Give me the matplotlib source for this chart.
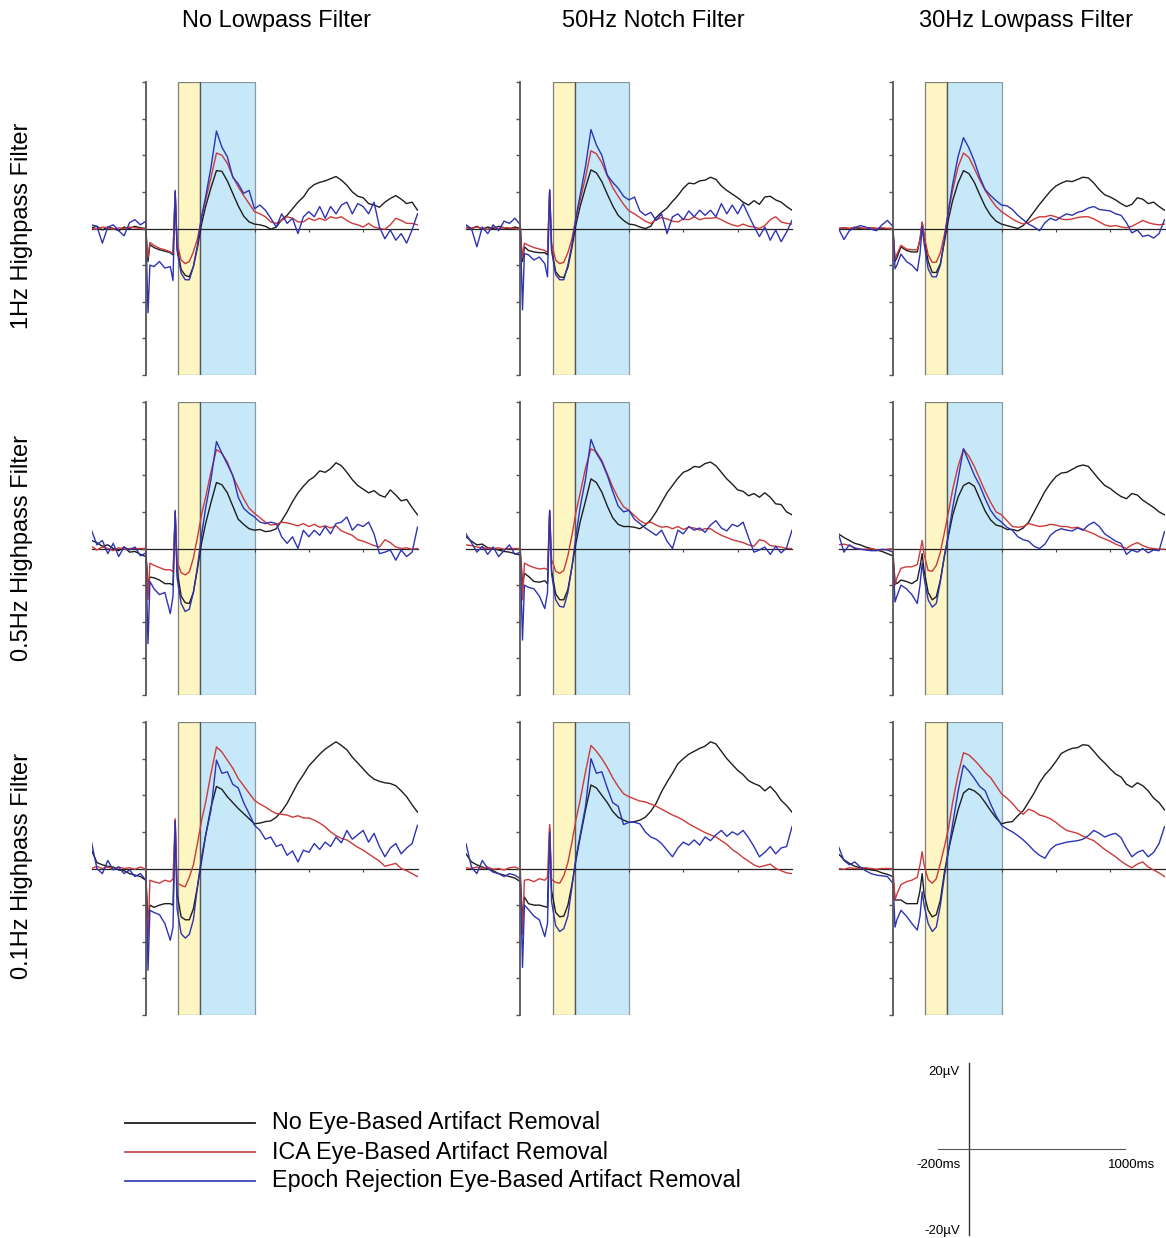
import matplotlib
matplotlib.use("Agg")
import matplotlib.pyplot as plt
from matplotlib.lines import Line2D

plt.rcParams['font.family'] = ['Liberation Sans', 'DejaVu Sans']

# Sample times (ms), shared by every waveform
T = [-200, -180, -160, -140, -120, -100, -80, -60, -40, -20, 0,
     4, 8, 15, 30, 50, 70, 90, 100, 108, 115, 130, 145, 160, 175, 190, 205, 220,
     240, 260, 280, 300, 320, 340, 360, 380, 400, 420, 440, 460, 480, 500,
     520, 540, 560, 580, 600, 620, 640, 660, 680, 700, 720, 740, 760, 780, 800,
     820, 840, 860, 880, 900, 920, 940, 960, 980, 1000]

col_titles = ["No Lowpass Filter", "50Hz Notch Filter", "30Hz Lowpass Filter"]
row_titles = ["1Hz Highpass Filter", "0.5Hz Highpass Filter", "0.1Hz Highpass Filter"]
legend_labels = ["No Eye-Based Artifact Removal",
                 "ICA Eye-Based Artifact Removal",
                 "Epoch Rejection Eye-Based Artifact Removal"]

# ---- 1Hz highpass ----------------------------------------------------------
hp1_nolp_none = [0.1, 0.3, -0.2, 0.2, 0.0, -0.3, 0.2, 0.0, 0.3, 0.1, 0.0,
    -2.5, -4.5, -2.2, -2.6, -2.9, -3.1, -3.3, -3.6, 5.0, -2.6, -5.6, -6.4, -6.6, -5.2, -2.6, 0.6, 3.0,
    5.6, 7.9, 7.8, 6.5, 4.8, 3.1, 1.7, 0.9, 0.6, 0.5, 0.3, -0.1, 0.2, 1.2,
    1.8, 2.7, 3.6, 4.3, 5.4, 6.0, 6.3, 6.5, 6.8, 7.1, 6.6, 5.9, 5.0, 4.4, 4.2,
    3.4, 3.2, 2.9, 3.6, 4.1, 4.5, 4.0, 3.4, 3.6, 2.5]
hp1_nolp_ica = [0.0, -0.1, 0.2, 0.1, -0.1, 0.1, 0.0, 0.2, 0.1, 0.0, 0.0,
    -2.5, -4.0, -1.9, -2.3, -2.7, -2.9, -3.2, -3.4, 5.0, -2.0, -4.3, -4.8, -4.5, -3.2, -1.4, 1.4, 3.9,
    7.0, 10.3, 10.0, 8.9, 7.1, 5.7, 4.5, 3.4, 2.3, 2.0, 1.6, 0.9, 0.7, 1.1,
    1.6, 1.4, 0.9, 0.9, 1.4, 1.1, 1.4, 1.1, 1.6, 1.4, 1.6, 1.1, 0.7, 0.5, 0.2,
    0.7, 0.2, 0.0, -0.1, 0.5, 1.4, 1.1, 0.7, 0.7, 0.5]
hp1_nolp_rej = [0.5, 0.3, -2.0, 0.2, 0.5, -0.3, -1.0, 0.8, 1.2, 0.5, 1.0,
    -6.0, -11.5, -5.0, -5.2, -4.5, -5.4, -5.2, -7.1, 5.2, -3.0, -6.1, -7.0, -7.0, -5.2, -2.3, 1.6, 4.3,
    8.4, 13.3, 11.1, 9.8, 7.0, 6.1, 4.8, 5.2, 2.7, 3.2, 2.5, 1.4, 0.2, 2.0,
    0.7, 1.4, -0.7, 1.6, 2.3, 1.6, 3.0, 1.4, 3.0, 2.0, 3.2, 3.6, 2.0, 3.4, 3.0,
    2.0, 3.6, 0.2, -1.4, -0.2, -1.6, -0.7, -2.0, -0.2, 2.0]

hp1_notch_none = [0.2, 0.0, 0.3, -0.1, 0.2, 0.0, 0.3, 0.1, -0.1, 0.2, 0.0,
    -2.5, -4.5, -2.5, -3.0, -3.2, -3.3, -3.3, -3.6, 5.2, -2.8, -5.9, -6.6, -6.7, -5.3, -2.6, 0.6, 3.0,
    5.6, 8.0, 7.6, 6.4, 4.7, 3.1, 1.8, 1.1, 0.6, 0.5, 0.2, 0.0, 0.3, 1.5,
    2.2, 2.8, 3.7, 4.5, 5.5, 6.2, 6.1, 6.5, 6.6, 7.0, 6.7, 5.8, 5.2, 4.7, 4.2,
    3.6, 3.2, 3.8, 3.3, 4.3, 4.4, 3.9, 3.6, 3.0, 2.5]
hp1_notch_ica = [0.1, 0.0, 0.2, 0.0, -0.1, 0.2, 0.0, 0.1, 0.1, 0.0, 0.0,
    -2.5, -4.0, -2.0, -2.3, -2.6, -2.8, -3.0, -3.3, 5.1, -2.0, -4.3, -4.8, -4.6, -3.3, -1.4, 1.4, 3.9,
    7.0, 10.6, 10.2, 9.0, 7.2, 5.6, 4.4, 3.3, 2.4, 2.0, 1.5, 1.0, 0.7, 1.2,
    1.5, 1.3, 1.0, 0.9, 1.3, 1.2, 1.6, 1.2, 1.4, 1.4, 1.5, 1.2, 0.8, 0.5, 0.3,
    0.6, 0.3, 0.2, 0.0, 0.4, 1.2, 1.6, 0.9, 0.7, 0.6]
hp1_notch_rej = [0.5, 0.0, -2.5, 0.2, -0.7, 0.5, -0.3, 1.0, 0.7, 1.4, 0.5,
    -5.5, -11.1, -3.4, -3.6, -4.3, -3.9, -4.8, -6.6, 5.3, -3.0, -6.3, -7.0, -7.0, -5.0, -2.2, 1.6, 4.5,
    8.5, 13.5, 11.4, 10.0, 7.3, 6.3, 5.5, 4.4, 3.9, 4.3, 2.4, 1.8, 2.2, 1.1,
    2.0, -0.7, 1.6, 2.0, 1.2, 2.4, 1.6, 2.5, 1.8, 2.5, 1.6, 3.4, 2.0, 3.2, 2.0,
    3.4, 1.8, 0.3, -1.1, 0.2, -1.6, -0.2, -1.8, -0.5, 1.1]

hp1_lp30_none = [0.0, 0.1, 0.0, 0.1, 0.0, 0.0, 0.1, 0.0, 0.0, 0.0, 0.0,
    -2.0, -4.5, -4.0, -2.5, -3.0, -3.2, -3.2, -1.5, 0.8, -1.0, -4.5, -6.0, -6.0, -4.8, -1.8, 1.3, 3.8,
    6.2, 7.9, 7.5, 6.3, 4.6, 3.0, 1.8, 1.0, 0.6, 0.4, 0.2, 0.0, 0.4, 1.3,
    2.3, 3.3, 4.2, 5.1, 5.8, 6.2, 6.5, 6.4, 6.7, 7.0, 6.9, 6.2, 5.3, 4.6, 4.3,
    3.9, 3.4, 3.0, 3.3, 4.2, 4.0, 3.4, 3.6, 3.0, 2.5]
hp1_lp30_ica = [0.0, 0.1, 0.0, 0.2, 0.1, 0.0, 0.1, 0.0, 0.1, 0.0, 0.0,
    -2.0, -4.2, -3.5, -2.3, -2.8, -2.9, -2.9, -1.5, 0.9, -0.9, -3.6, -4.6, -4.6, -3.3, -0.8, 2.4, 5.2,
    8.4, 10.3, 9.7, 8.2, 6.6, 5.2, 4.0, 3.0, 2.3, 1.8, 1.3, 0.9, 0.6, 0.8,
    1.3, 1.6, 1.6, 1.8, 1.6, 1.3, 1.2, 1.3, 1.5, 1.6, 1.6, 1.3, 0.9, 0.5, 0.3,
    0.4, 0.2, 0.1, 0.3, 0.7, 1.1, 0.8, 0.6, 0.5, 0.6]
hp1_lp30_rej = [0.0, -1.5, -0.3, 0.1, 0.4, 0.2, -0.1, -0.3, 0.5, 1.1, 0.3,
    -2.5, -5.5, -5.0, -3.5, -4.5, -5.0, -5.8, -3.5, 0.3, -2.0, -5.5, -6.6, -6.6, -5.0, -1.5, 2.5, 6.0,
    9.8, 12.4, 11.0, 9.2, 7.0, 5.3, 4.5, 3.8, 3.2, 3.1, 2.6, 1.8, 1.2, 0.6,
    0.2, -0.3, 0.8, 1.4, 1.1, 1.6, 2.0, 1.8, 2.2, 2.4, 2.8, 3.0, 2.6, 2.5, 2.4,
    2.0, 1.8, 0.8, -0.6, -0.2, -1.1, -0.9, -1.3, -0.7, 1.2]

# ---- 0.5Hz highpass --------------------------------------------------------
hp05_nolp_none = [1.1, 0.8, 0.3, 0.5, 0.0, -0.3, 0.2, -0.5, -0.4, -0.8, -1.1,
    -2.5, -5.0, -3.9, -4.0, -4.3, -4.8, -4.8, -5.0, 5.0, -3.0, -6.5, -7.4, -7.5, -6.0, -2.8, 0.7, 3.4,
    6.3, 9.0, 8.7, 7.6, 5.8, 4.0, 3.3, 2.7, 2.5, 2.6, 2.3, 2.4, 2.7, 3.8,
    5.0, 6.4, 7.6, 8.5, 9.3, 9.8, 10.6, 10.4, 10.9, 11.7, 11.3, 10.4, 9.4, 8.6, 8.1,
    7.6, 7.9, 7.3, 7.0, 8.0, 7.3, 6.5, 6.7, 5.6, 4.6]
hp05_nolp_ica = [0.3, -0.2, 0.2, 0.0, -0.3, 0.1, -0.1, 0.0, 0.0, 0.0, 0.0,
    -3.0, -7.0, -2.0, -2.3, -2.6, -2.9, -2.9, -3.2, 5.0, -1.8, -3.3, -3.6, -3.2, -1.3, 1.5, 4.6, 7.0,
    10.5, 13.5, 13.0, 11.8, 9.9, 8.3, 6.8, 5.5, 4.8, 4.2, 3.6, 3.2, 3.3, 3.6,
    3.5, 3.3, 3.1, 3.4, 3.0, 3.3, 2.9, 3.1, 2.8, 3.1, 2.4, 2.1, 1.8, 1.2, 1.0,
    0.7, 0.4, 0.2, 1.2, 0.8, 0.2, 0.0, 0.1, -0.1, 0.0]
hp05_nolp_rej = [2.5, 0.5, 1.1, -0.7, 0.7, -1.1, 0.2, -0.2, 0.2, -1.0, -0.6,
    -7.0, -13.0, -4.5, -5.5, -6.3, -6.0, -8.9, -6.5, 5.2, -4.0, -7.5, -8.6, -8.3, -6.0, -2.5, 1.8, 5.5,
    9.5, 14.6, 13.0, 11.5, 10.0, 7.0, 5.5, 4.8, 4.3, 3.6, 3.4, 3.6, 3.4, 1.6,
    0.7, 1.6, 0.0, 2.5, 1.6, 2.5, 1.8, 3.0, 2.0, 3.4, 3.6, 4.3, 2.5, 3.3, 3.0,
    3.6, 2.0, -0.7, -0.5, -0.2, -1.6, -0.2, -1.1, -0.5, 2.9]

hp05_notch_none = [1.6, 1.0, 0.5, 0.6, 0.1, 0.0, -0.2, -0.4, -0.5, -0.7, -0.9,
    -2.5, -5.0, -3.4, -3.8, -4.5, -4.6, -4.4, -4.8, 5.0, -3.0, -6.2, -7.0, -7.0, -5.6, -2.5, 0.8, 3.6,
    6.5, 9.5, 9.0, 7.7, 5.8, 4.2, 3.3, 3.0, 3.0, 2.9, 2.7, 3.2, 3.9, 5.0,
    6.3, 7.6, 8.6, 9.6, 10.4, 10.7, 11.2, 11.1, 11.6, 11.8, 11.3, 10.4, 9.5, 8.8, 8.0,
    7.8, 7.2, 7.5, 7.0, 7.6, 7.0, 6.1, 6.0, 5.0, 4.6]
hp05_notch_ica = [0.5, 0.4, 0.2, 0.1, 0.0, 0.0, 0.1, -0.1, 0.0, 0.0, 0.0,
    -3.0, -7.0, -2.0, -2.3, -2.6, -2.8, -2.7, -2.9, 5.2, -1.5, -3.1, -3.4, -3.0, -1.0, 1.8, 5.0, 7.5,
    11.0, 13.6, 13.2, 12.0, 10.2, 8.4, 6.9, 5.7, 5.2, 4.5, 3.8, 3.4, 3.6, 3.2,
    2.9, 3.0, 2.7, 3.0, 2.6, 2.9, 2.8, 2.5, 2.7, 2.7, 2.2, 1.8, 1.5, 1.2, 1.0,
    0.8, 0.5, 0.3, 1.2, 1.0, 0.4, 0.3, 0.2, 0.0, 0.0]
hp05_notch_rej = [2.0, 0.8, -0.5, 0.3, -0.8, 0.2, -1.1, -0.3, 0.5, -0.8, -0.5,
    -7.0, -12.5, -5.0, -5.3, -5.5, -6.5, -8.2, -6.0, 5.2, -3.5, -7.0, -7.9, -8.0, -6.0, -2.5, 1.8, 5.6,
    9.5, 14.9, 13.0, 11.8, 10.0, 7.8, 5.8, 5.0, 5.2, 4.0, 3.4, 2.8, 2.3, 1.8,
    2.5, 1.0, 0.0, 2.5, 2.0, 3.0, 2.5, 2.8, 2.2, 3.2, 3.8, 2.8, 2.4, 3.3, 3.0,
    3.6, 1.5, -0.5, -0.2, 0.2, -0.8, 0.3, -0.6, 0.1, 2.5]

hp05_lp30_none = [2.0, 1.5, 1.1, 0.7, 0.5, 0.2, 0.0, -0.2, -0.4, -0.7, -1.0,
    -2.5, -4.5, -4.8, -4.3, -4.5, -4.8, -4.3, -2.5, -0.7, -3.0, -6.0, -7.0, -6.6, -4.3, -1.0, 1.8, 4.5,
    7.0, 8.6, 9.0, 8.5, 6.8, 5.1, 3.9, 3.2, 3.0, 2.6, 2.6, 2.4, 2.8, 3.6,
    5.0, 6.4, 7.8, 8.9, 9.8, 10.3, 10.4, 10.8, 11.2, 11.4, 11.2, 10.3, 9.4, 8.6, 8.2,
    7.6, 7.1, 6.8, 7.5, 7.3, 6.6, 6.1, 5.6, 5.0, 4.6]
hp05_lp30_ica = [0.5, 0.6, 0.4, 0.1, -0.1, -0.1, 0.0, -0.2, -0.2, -0.1, 0.0,
    -2.5, -5.0, -4.0, -2.7, -2.5, -2.5, -2.2, -0.5, 1.1, -0.8, -3.0, -3.1, -2.3, -0.5, 2.2, 5.0, 8.0,
    11.2, 13.6, 12.6, 11.2, 9.5, 7.8, 6.3, 5.0, 4.6, 3.8, 3.0, 2.9, 3.0, 3.4,
    3.2, 3.0, 3.1, 3.3, 3.2, 3.0, 3.0, 2.8, 2.9, 2.6, 2.3, 2.0, 1.6, 1.3, 1.0,
    0.6, 0.3, 0.0, 0.5, 0.8, 0.4, 0.1, 0.0, -0.1, -0.1]
hp05_lp30_rej = [2.0, -0.5, 0.5, 0.0, -0.1, -0.2, -0.3, -0.3, -0.1, -0.2, -0.5,
    -4.0, -7.3, -6.5, -5.0, -5.5, -6.3, -7.5, -5.0, -2.0, -4.0, -7.0, -8.0, -7.5, -4.5, -1.0, 2.0, 5.5,
    9.5, 13.6, 11.8, 10.0, 8.6, 6.8, 5.2, 4.2, 3.6, 2.9, 2.5, 1.6, 1.2, 1.0,
    0.3, 0.0, 0.6, 1.8, 2.4, 2.7, 2.5, 2.4, 2.8, 2.5, 3.2, 3.6, 3.0, 2.0, 1.5,
    1.0, 0.7, -0.8, -0.2, -0.5, 0.0, -0.6, -0.2, -0.3, 2.3]

# ---- 0.1Hz highpass --------------------------------------------------------
hp01_nolp_none = [2.5, 0.8, 0.5, 0.3, 0.2, -0.2, -0.3, -0.7, -0.9, -1.1, -1.6,
    -4.0, -7.0, -5.0, -5.3, -5.0, -4.8, -4.8, -5.0, 6.5, -3.5, -6.6, -7.0, -7.0, -5.5, -2.5, 1.0, 4.5,
    8.4, 11.2, 10.8, 9.8, 9.0, 8.2, 7.5, 6.8, 6.1, 6.2, 6.4, 6.5, 7.0, 7.8,
    8.9, 10.3, 11.7, 12.8, 14.0, 14.8, 15.6, 16.3, 16.8, 17.3, 16.8, 16.2, 15.2, 14.4, 13.6,
    12.8, 12.2, 11.9, 11.7, 11.6, 11.3, 10.6, 9.8, 8.7, 7.7]
hp01_nolp_ica = [0.0, 0.3, 0.0, 0.2, -0.1, 0.2, 0.0, 0.1, -0.1, 0.2, -0.1,
    -5.0, -9.8, -1.6, -1.8, -2.0, -1.6, -1.8, -1.4, 6.8, -2.0, -2.3, -2.5, -1.2, 0.5, 3.4, 6.5, 9.0,
    13.0, 16.6, 15.9, 14.8, 13.7, 12.3, 11.3, 10.3, 9.3, 8.8, 8.4, 7.9, 7.5, 7.4,
    7.3, 7.0, 7.2, 6.9, 6.9, 6.6, 6.2, 5.7, 5.0, 4.5, 4.1, 3.9, 3.4, 2.9, 2.5,
    2.0, 1.5, 1.0, 0.3, 0.5, 0.7, 0.0, -0.3, -0.7, -1.1]
hp01_nolp_rej = [3.6, 0.0, -0.7, 1.1, -0.2, 0.2, -0.7, -0.2, -1.1, -0.7, -1.6,
    -7.0, -13.9, -5.7, -6.0, -6.3, -7.5, -9.8, -8.0, 6.5, -5.5, -8.9, -9.5, -9.0, -7.0, -2.5, 1.5, 4.5,
    8.0, 14.8, 13.0, 13.2, 11.5, 11.0, 9.0, 7.5, 5.9, 5.2, 4.0, 4.3, 3.0, 3.3,
    1.8, 2.4, 0.9, 2.5, 2.2, 3.4, 2.6, 3.6, 3.0, 4.3, 3.5, 5.2, 4.0, 4.6, 5.2,
    3.6, 4.8, 3.0, 1.6, 2.8, 3.4, 2.0, 2.8, 3.4, 5.9]

hp01_notch_none = [2.0, 0.9, 0.5, 0.2, 0.0, -0.3, -0.7, -0.9, -1.1, -1.3, -1.8,
    -4.0, -7.0, -3.9, -4.8, -5.0, -5.0, -5.2, -5.3, 5.5, -3.0, -6.0, -6.6, -6.5, -5.0, -2.2, 1.2, 4.2,
    8.0, 11.4, 11.0, 10.0, 9.0, 7.8, 7.0, 6.6, 6.3, 6.4, 6.6, 7.0, 7.8, 8.9,
    10.5, 11.8, 13.0, 14.3, 15.0, 15.6, 16.0, 16.4, 16.7, 17.3, 17.0, 16.0, 15.0, 14.2, 13.4,
    12.8, 12.0, 11.6, 11.3, 10.6, 11.2, 10.4, 9.3, 8.6, 7.7]
hp01_notch_ica = [0.1, 0.0, 0.2, 0.0, 0.2, -0.1, 0.0, -0.2, 0.1, 0.2, -0.1,
    -5.0, -9.0, -1.6, -1.5, -1.8, -1.4, -1.6, -1.2, 6.0, -1.5, -1.9, -2.0, -1.0, 0.8, 3.6, 6.7, 9.3,
    13.2, 16.8, 16.0, 15.0, 13.8, 12.4, 11.2, 10.2, 9.8, 9.5, 9.2, 9.1, 8.8, 8.5,
    8.1, 7.7, 7.3, 7.0, 6.6, 6.1, 5.7, 5.3, 4.9, 4.6, 4.3, 3.8, 3.3, 2.6, 2.1,
    1.5, 1.0, 0.5, 0.2, 0.4, 0.6, 0.0, -0.3, -0.6, -0.7]
hp01_notch_rej = [3.4, 0.2, -0.7, 1.1, 0.0, -0.5, -0.7, -1.1, -0.7, -0.9, -1.4,
    -7.0, -13.5, -5.0, -5.6, -6.5, -7.0, -9.3, -7.5, 5.0, -4.5, -7.8, -8.6, -8.2, -6.5, -2.5, 1.5, 4.5,
    8.5, 15.0, 13.0, 13.2, 11.0, 9.0, 8.5, 6.0, 6.3, 6.3, 6.1, 5.0, 4.3, 4.0,
    3.4, 2.5, 1.6, 2.8, 3.6, 3.2, 3.9, 3.2, 4.3, 3.8, 4.6, 5.2, 4.4, 5.0, 4.6,
    5.2, 4.2, 3.0, 1.6, 2.2, 3.0, 2.0, 2.8, 3.0, 5.7]

hp01_lp30_none = [2.0, 1.2, 0.7, 0.3, 0.1, 0.0, -0.2, -0.3, -0.6, -0.8, -1.1,
    -2.5, -4.3, -4.3, -4.3, -4.8, -4.8, -4.8, -3.0, -0.7, -3.5, -5.7, -6.6, -6.3, -4.3, -0.5, 2.5, 5.0,
    8.0, 10.3, 10.9, 10.6, 10.0, 9.0, 7.9, 6.9, 6.1, 6.3, 6.4, 7.2, 7.9, 9.1,
    10.3, 11.7, 12.8, 13.6, 14.6, 15.7, 16.1, 16.4, 16.5, 16.9, 16.8, 16.0, 15.1, 14.4, 13.6,
    12.9, 12.5, 11.5, 11.1, 11.7, 11.3, 10.6, 9.6, 9.0, 8.0]
hp01_lp30_ica = [0.0, -0.1, 0.1, 0.0, 0.0, 0.1, 0.0, -0.1, 0.0, 0.0, 0.0,
    -2.0, -4.3, -3.5, -2.2, -1.8, -1.6, -1.2, 0.5, 2.3, 0.5, -1.5, -2.0, -1.4, 0.7, 3.0, 5.5, 9.0,
    12.8, 15.8, 15.5, 14.8, 14.0, 13.1, 12.4, 11.3, 10.2, 9.6, 8.9, 8.0, 7.4, 8.1,
    7.8, 7.3, 7.1, 6.8, 6.3, 5.7, 5.2, 5.0, 4.8, 4.4, 4.1, 3.8, 3.2, 2.6, 2.1,
    1.6, 1.0, 0.5, 0.1, 0.6, 0.9, 0.2, -0.2, -0.6, -1.1]
hp01_lp30_rej = [3.0, 1.1, 0.5, 0.9, 0.2, -0.3, -0.7, -0.9, -1.0, -1.1, -2.0,
    -4.5, -8.0, -7.0, -5.7, -6.5, -7.5, -8.4, -6.5, -3.2, -5.0, -7.5, -8.6, -8.0, -5.0, -1.0, 2.5, 6.0,
    10.5, 14.1, 13.3, 12.3, 11.2, 10.6, 8.8, 7.2, 5.9, 5.4, 5.0, 4.5, 3.9, 3.2,
    2.4, 1.8, 1.4, 2.6, 3.2, 3.4, 3.6, 3.7, 3.8, 4.0, 4.5, 5.2, 4.8, 4.3, 4.6,
    4.8, 4.2, 2.8, 1.6, 2.2, 2.5, 1.6, 2.2, 3.4, 5.7]

panels = [
    [(hp1_nolp_none, hp1_nolp_ica, hp1_nolp_rej),
     (hp1_notch_none, hp1_notch_ica, hp1_notch_rej),
     (hp1_lp30_none, hp1_lp30_ica, hp1_lp30_rej)],
    [(hp05_nolp_none, hp05_nolp_ica, hp05_nolp_rej),
     (hp05_notch_none, hp05_notch_ica, hp05_notch_rej),
     (hp05_lp30_none, hp05_lp30_ica, hp05_lp30_rej)],
    [(hp01_nolp_none, hp01_nolp_ica, hp01_nolp_rej),
     (hp01_notch_none, hp01_notch_ica, hp01_notch_rej),
     (hp01_lp30_none, hp01_lp30_ica, hp01_lp30_rej)],
]

# analysis windows (ms)
early_window = (120, 200)
late_window = (200, 400)

line_colors = ['#1e1e1e', '#cc3a3a', '#2d33b3']
yellow = '#fdf5c2'
cyan = '#c6e8f8'

W, H = 1166, 1238
fig = plt.figure(figsize=(W / 100, H / 100), dpi=100)
fig.patch.set_facecolor('white')

col_left = [91.5, 466.0, 838.5]
row_top = [82.0, 402.0, 722.0]
pw, ph = 326.0, 293.0


def px_rect(left, top, w, h):
    return [left / W, 1 - (top + h) / H, w / W, h / H]


for r in range(3):
    for c in range(3):
        ax = fig.add_axes(px_rect(col_left[c], row_top[r], pw, ph))
        ax.set_xlim(-200, 1000)
        ax.set_ylim(-20, 20)
        ax.patch.set_alpha(0)
        ax.axvspan(*early_window, facecolor=yellow, edgecolor='#7f7f7f', lw=0.9, zorder=0)
        ax.axvspan(*late_window, facecolor=cyan, edgecolor='#8a9aa0', lw=0.9, zorder=0)
        ax.axvline(early_window[1], color='#555555', lw=0.9, zorder=0.5)
        for series, col in zip(panels[r][c], line_colors):
            ax.plot(T, series, color=col, lw=1.0, zorder=2)
        for side in ('top', 'right'):
            ax.spines[side].set_visible(False)
        ax.spines['left'].set_position(('data', 0))
        ax.spines['left'].set_color('#555555')
        ax.spines['left'].set_linewidth(1.3)
        ax.spines['bottom'].set_position(('data', 0))
        ax.spines['bottom'].set_color('#222222')
        ax.spines['bottom'].set_linewidth(0.9)
        ax.spines['bottom'].set_zorder(1.5)
        ax.set_yticks(range(-20, 21, 5))
        ax.set_xticks([200, 400, 600, 800])
        ax.tick_params(axis='y', direction='out', length=3, width=1.0, colors='#555555',
                       labelleft=False)
        ax.tick_params(axis='x', direction='out', length=2.5, width=0.8, colors='#444444',
                       labelbottom=False)

# column and row headings
col_centers = [276, 653, 1026]
for title, xc in zip(col_titles, col_centers):
    fig.text(xc / W, 1 - 21 / H, title, ha='center', va='center', fontsize=17)
row_centers = [226, 548, 866]
for title, yc in zip(row_titles, row_centers):
    fig.text(22 / W, 1 - yc / H, title, ha='center', va='center', rotation=90, fontsize=17)

# legend
leg_y = [1123, 1152, 1181]
leg_colors = ['#1e1e1e', '#c0504d', '#3a48b8']
for label, yy, col in zip(legend_labels, leg_y, leg_colors):
    fig.add_artist(Line2D([125 / W, 255 / W], [1 - yy / H, 1 - yy / H], color=col, lw=1.3))
    fig.text(272 / W, 1 - yy / H, label, ha='left', va='center', fontsize=16.8)

# scale reference
axs = fig.add_axes(px_rect(938, 1063, 187, 172))
axs.set_xlim(-200, 1000)
axs.set_ylim(-20, 20)
axs.patch.set_alpha(0)
for side in ('top', 'right'):
    axs.spines[side].set_visible(False)
axs.spines['left'].set_position(('data', 0))
axs.spines['bottom'].set_position(('data', 0))
axs.spines['left'].set_color('#333333')
axs.spines['bottom'].set_color('#555555')
axs.spines['left'].set_linewidth(1.0)
axs.spines['bottom'].set_linewidth(0.8)
axs.set_xticks([])
axs.set_yticks([])
fig.text(960 / W, 1 - 1072 / H, "20\u00b5V", ha='right', va='center', fontsize=9.5)
fig.text(960 / W, 1 - 1231 / H, "-20\u00b5V", ha='right', va='center', fontsize=9.5)
fig.text(961 / W, 1 - 1165 / H, "-200ms", ha='right', va='center', fontsize=9.5)
fig.text(1155 / W, 1 - 1165 / H, "1000ms", ha='right', va='center', fontsize=9.5)

fig.savefig('out.png', dpi=100, facecolor='white')
